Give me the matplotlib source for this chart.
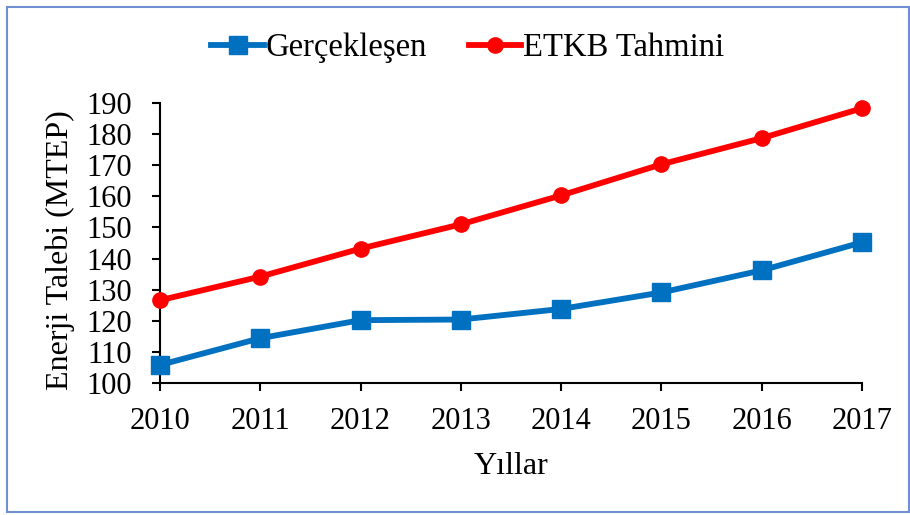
import matplotlib.pyplot as plt
from matplotlib.patches import Rectangle

# data
years = [2010, 2011, 2012, 2013, 2014, 2015, 2016, 2017]
gerceklesen = [105.8, 114.4, 120.2, 120.4, 123.8, 129.1, 136.2, 145.2]
etkb_tahmini = [126.6, 134.2, 143.2, 151.0, 160.3, 170.3, 178.7, 188.3]
yticks = list(range(100, 191, 10))

plt.rcParams['font.family'] = ['Liberation Serif', 'DejaVu Serif']

fig = plt.figure(figsize=(9.1, 5.15), dpi=100)
ax = fig.add_axes([0.1758, 0.2563, 0.7714, 0.5437])

ax.plot(years, gerceklesen, color='#0070C0', lw=4.2, marker='s', ms=13,
        label='Gerçekleşen', clip_on=False, zorder=3)
ax.plot(years, etkb_tahmini, color='#FF0000', lw=4.2, marker='o', ms=11,
        label='ETKB Tahmini', clip_on=False, zorder=3)

ax.set_xlim(2010, 2017)
ax.set_ylim(100, 190)
ax.set_xticks(years)
ax.set_yticks(yticks)
ax.tick_params(labelsize=22, width=1.5, length=6, direction='out', color='#000000')
ax.tick_params(axis='x', pad=11)
ax.tick_params(axis='y', pad=14)
for s in ['top', 'right']:
    ax.spines[s].set_visible(False)
for s in ['left', 'bottom']:
    ax.spines[s].set_linewidth(1.5)

ax.set_xlabel('Yıllar', fontsize=23, labelpad=12)
ax.set_ylabel('Enerji Talebi (MTEP)', fontsize=23)
ax.yaxis.set_label_coords(-0.121, 0.475)

fig.legend(loc='center', bbox_to_anchor=(0.514, 0.907), ncol=2, frameon=False,
           fontsize=23.5, handlelength=1.6, handletextpad=0.05, columnspacing=1.3)

fig.patches.append(Rectangle((7 / 910, 3 / 515), 902 / 910, 505 / 515,
                             transform=fig.transFigure, fill=False,
                             edgecolor='#6F8FD0', lw=1.5))

fig.savefig('out.png', dpi=100)
